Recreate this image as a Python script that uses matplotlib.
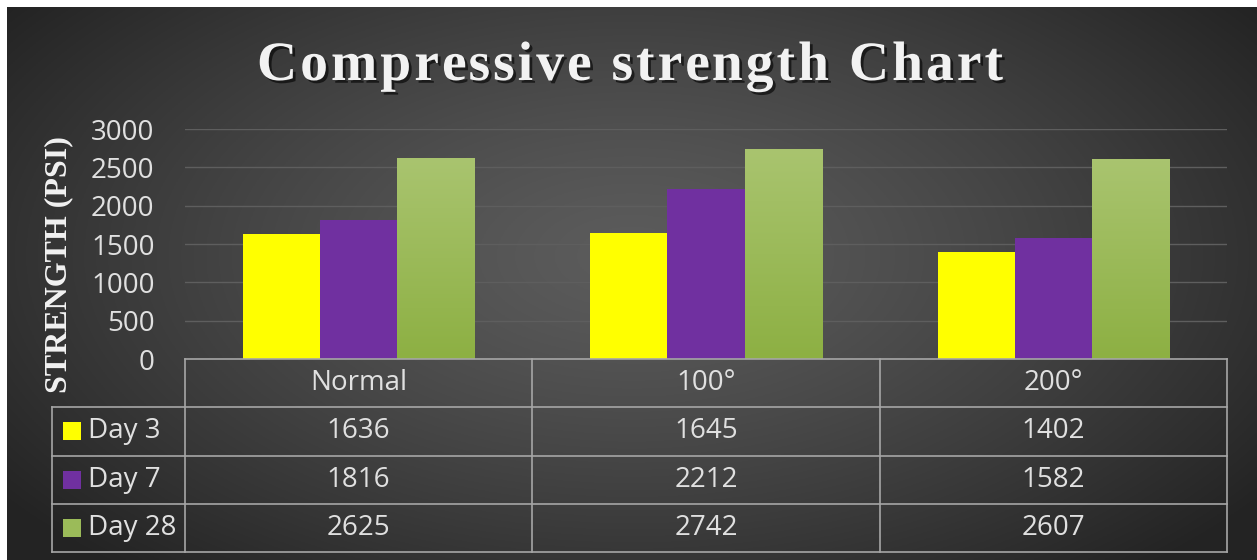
import numpy as np
import matplotlib
matplotlib.use("Agg")
import matplotlib.pyplot as plt
import matplotlib.patheffects as pe
from matplotlib.patches import Rectangle
from matplotlib.colors import LinearSegmentedColormap

# data
categories = ["Normal", "100°", "200°"]
series_names = ["Day 3", "Day 7", "Day 28"]
day3 = [1636, 1645, 1402]
day7 = [1816, 2212, 1582]
day28 = [2625, 2742, 2607]
yticks = [0, 500, 1000, 1500, 2000, 2500, 3000]
title = "Compressive strength Chart"

series = [day3, day7, day28]
colors = ["#ffff00", "#7030a0", "#9bbb59"]

W, H = 1257, 560
fig = plt.figure(figsize=(W / 100, H / 100), dpi=100, facecolor="white")

# dark radial background (white margin on top/left like the reference)
bg = fig.add_axes([7 / W, 0, 1 - 7 / W, 1 - 7 / H])
bg.set_axis_off()
yy, xx = np.mgrid[0:1:300j, 0:1:600j]
d = np.sqrt(((xx - 0.5) / 0.62) ** 2 + ((yy - 0.45) / 0.75) ** 2)
d = np.clip(d, 0, 1)
shade = 0.36 - 0.22 * d ** 1.3
bg.imshow(np.dstack([shade, shade, shade]), aspect="auto", extent=(0, 1, 0, 1))
bg.set_xlim(0, 1)
bg.set_ylim(0, 1)

txt = "#e0e0e0"
sans = "Open Sans"
serif = "Liberation Serif"
fs = 20

ax = fig.add_axes([185 / W, 1 - 359 / H, (1227 - 185) / W, (359 - 129) / H])
ax.set_facecolor("none")
for s in ax.spines.values():
    s.set_visible(False)
ax.set_yticks(yticks)
ax.set_yticklabels([str(v) for v in yticks], fontsize=fs, color=txt, family=sans)
ax.tick_params(axis="y", length=0, pad=22)
ax.set_xticks([])
ax.grid(axis="y", color="#5e5e5e", lw=1)
ax.set_axisbelow(True)

# bars: gap width 150%
n = len(series)
bw = 1 / (n + 1.5)
x = np.arange(len(categories))
green = LinearSegmentedColormap.from_list("g", ["#8db043", "#a9c46f"])
for i, (vals, c) in enumerate(zip(series, colors)):
    offs = (i - (n - 1) / 2) * bw
    bars = ax.bar(x + offs, vals, width=bw, color=c, zorder=3,
                  path_effects=[pe.withSimplePatchShadow(offset=(0, 0), shadow_rgbFace="black", alpha=0.35)])
    if i == 2:
        for b in bars:
            grad = np.linspace(0, 1, 100).reshape(-1, 1)
            im = ax.imshow(grad, cmap=green, origin="lower", aspect="auto", zorder=3.5,
                           extent=(b.get_x(), b.get_x() + b.get_width(), 0, b.get_height()))
            im.set_clip_path(b)
ax.set_xlim(-0.5, len(categories) - 0.5)
ax.set_ylim(0, 3000)

# data table beneath the plot, drawn in blended coords (x data, y axes)
trans = ax.get_xaxis_transform()
ax_h_px = 359 - 129
row_h = 48.25 / ax_h_px
label_left = -0.5 - (185 - 52) / (1227 - 185) * 3
line_c = "#a6a6a6"
rows = 1 + len(series)
bottom = -rows * row_h
kw = dict(transform=trans, clip_on=False, color=line_c, lw=1.2, zorder=5)
ax.plot([-0.5, 2.5], [0, 0], **kw)
for r in range(1, rows + 1):
    ax.plot([label_left, 2.5], [-r * row_h] * 2, **kw)
ax.plot([label_left, label_left], [-row_h, bottom], **kw)
for k in range(len(categories) + 1):
    ax.plot([k - 0.5, k - 0.5], [0, bottom], **kw)

for j, cat in enumerate(categories):
    ax.text(j, -0.5 * row_h, cat, transform=trans, ha="center", va="center",
            fontsize=fs, color=txt, family=sans)
for r, (name, vals, c) in enumerate(zip(series_names, series, colors)):
    yc = -(r + 1.5) * row_h
    key_w = 18 / 347.3
    key_h = 18 / ax_h_px
    ax.add_patch(Rectangle((label_left + 11 / 347.3, yc - key_h / 2), key_w, key_h,
                           transform=trans, clip_on=False, facecolor=c, edgecolor="none"))
    ax.text(label_left + 36 / 347.3, yc, name, transform=trans, ha="left", va="center",
            fontsize=fs, color=txt, family=sans)
    for j, v in enumerate(vals):
        ax.text(j, yc, str(v), transform=trans, ha="center", va="center",
                fontsize=fs, color=txt, family=sans)

# title with letter spacing, drawn char by char
renderer = fig.canvas.get_renderer()
tkw = dict(fontsize=40, fontweight="bold", family=serif, color="#f2f2f2", va="baseline",
           path_effects=[pe.withSimplePatchShadow(offset=(2, -2), shadow_rgbFace="black", alpha=0.6)])
probe = fig.text(0, 0, title, **tkw)
full_w = probe.get_window_extent(renderer).width
probe.remove()
target_w = 1003 - 257
spacing = (target_w - full_w) / (len(title) - 1)
x0 = 630 - target_w / 2
base_y = 1 - 80 / H
for k, ch in enumerate(title):
    if ch == " ":
        continue
    if k:
        p = fig.text(0, 0, title[:k], **tkw)
        pw = p.get_window_extent(renderer).width
        p.remove()
    else:
        pw = 0
    fig.text((x0 + pw + k * spacing) / W, base_y, ch, ha="left", **tkw)

fig.text(59 / W, 1 - 265 / H, "STRENGTH (PSI)", ha="center", va="center", rotation=90,
         fontsize=23, fontweight="bold", family=serif, color="#f2f2f2")

fig.savefig("out.png", dpi=100, facecolor=fig.get_facecolor())
